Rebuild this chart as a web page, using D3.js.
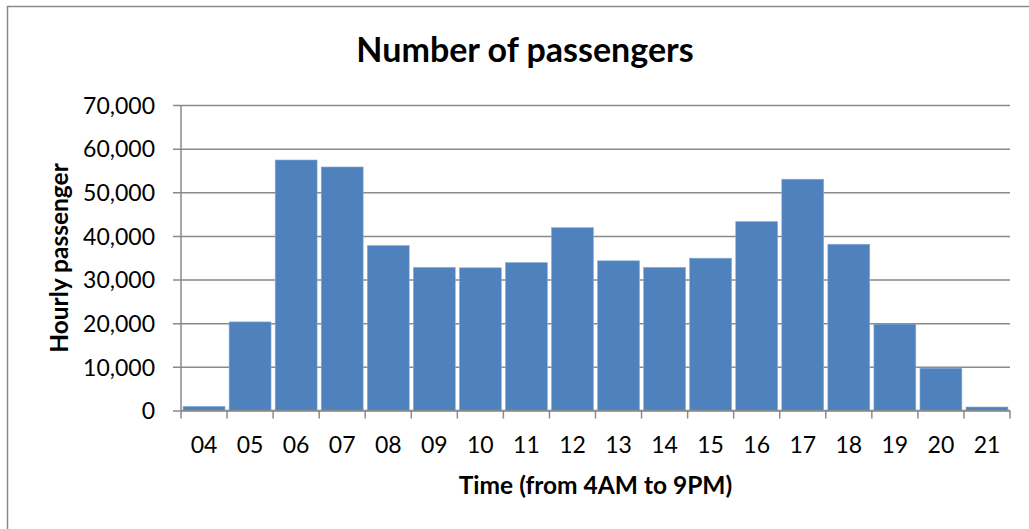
<!DOCTYPE html>
<html>
<head>
<meta charset="utf-8">
<script src="https://cdn.jsdelivr.net/npm/d3@7"></script>
<style>
  html, body { margin: 0; padding: 0; background: #fff; }
  svg { display: block; font-family: Lato, "Open Sans", sans-serif; }
</style>
</head>
<body>
<svg id="chart" width="1029" height="529"></svg>
<script>
// Hourly passenger counts, 4AM to 9PM
const hours = ["04","05","06","07","08","09","10","11","12","13","14","15","16","17","18","19","20","21"];
const passengers = [950, 20300, 57400, 55800, 37800, 32800, 32700, 33900, 41900, 34300, 32800, 34900, 43300, 53000, 38100, 19800, 9700, 800];
const yTicks = [0, 10000, 20000, 30000, 40000, 50000, 60000, 70000];

const svg = d3.select("#chart");
const margin = { left: 181, right: 1010, top: 105, bottom: 410.5 };

// frame around the chart area
svg.append("path")
  .attr("d", "M7.5,529 V6.5 H1029")
  .attr("fill", "none")
  .attr("stroke", "#8a8a8a")
  .attr("stroke-width", 1.5);

const x = d3.scaleBand()
  .domain(hours)
  .range([margin.left, margin.right])
  .paddingInner(0.09)
  .paddingOuter(0.045);

const y = d3.scaleLinear()
  .domain([0, 70000])
  .range([margin.bottom, margin.top]);

// horizontal gridlines with short ticks to the left
const yAxis = d3.axisLeft(y)
  .tickValues(yTicks)
  .tickSize(-(margin.right - margin.left))
  .tickSizeOuter(0)
  .tickPadding(26)
  .tickFormat(d3.format(","));

const gy = svg.append("g")
  .attr("transform", `translate(${margin.left},0)`)
  .call(yAxis);
gy.select(".domain").remove();
gy.selectAll(".tick line")
  .attr("x1", -8)
  .attr("stroke", "#8a8a8a")
  .attr("stroke-width", 1.5);
gy.selectAll(".tick text")
  .attr("fill", "#000")
  .attr("font-size", 23)
  .attr("font-family", "Lato, sans-serif")
  .attr("dy", "0.36em");

// bars
svg.append("g")
  .selectAll("rect")
  .data(hours)
  .join("rect")
  .attr("x", (d) => x(d))
  .attr("width", x.bandwidth())
  .attr("y", (d, i) => y(passengers[i]))
  .attr("height", (d, i) => y(0) - y(passengers[i]))
  .attr("fill", "#4f81bd")
  .attr("stroke", "#8eaed6")
  .attr("stroke-width", 0.6);

// y axis line
svg.append("line")
  .attr("x1", margin.left).attr("x2", margin.left)
  .attr("y1", margin.top).attr("y2", margin.bottom)
  .attr("stroke", "#8a8a8a")
  .attr("stroke-width", 1.5);

// x axis with boundary ticks between categories
const gx = svg.append("g")
  .attr("transform", `translate(0,${margin.bottom})`);
gx.append("line")
  .attr("x1", margin.left).attr("x2", margin.right)
  .attr("stroke", "#8a8a8a")
  .attr("stroke-width", 1.5);
const bounds = d3.range(hours.length + 1).map((i) => margin.left + i * (margin.right - margin.left) / hours.length);
gx.selectAll(".bound")
  .data(bounds)
  .join("line")
  .attr("class", "bound")
  .attr("x1", (d) => d).attr("x2", (d) => d)
  .attr("y1", 0).attr("y2", 8)
  .attr("stroke", "#8a8a8a")
  .attr("stroke-width", 1.5);
gx.selectAll(".lbl")
  .data(hours)
  .join("text")
  .attr("class", "lbl")
  .attr("x", (d) => x(d) + x.bandwidth() / 2)
  .attr("y", 42.5)
  .attr("text-anchor", "middle")
  .attr("font-size", 23)
  .attr("fill", "#000")
  .text((d) => d);

// titles
svg.append("text")
  .attr("x", 525)
  .attr("y", 62)
  .attr("text-anchor", "middle")
  .attr("font-size", 34)
  .attr("font-weight", "bold")
  .attr("fill", "#000")
  .text("Number of passengers");

svg.append("text")
  .attr("x", 595.5)
  .attr("y", 494)
  .attr("text-anchor", "middle")
  .attr("font-size", 24.5)
  .attr("font-weight", "bold")
  .attr("fill", "#000")
  .text("Time (from 4AM to 9PM)");

svg.append("text")
  .attr("transform", "translate(68,258) rotate(-90)")
  .attr("text-anchor", "middle")
  .attr("font-size", 24.5)
  .attr("font-weight", "bold")
  .attr("fill", "#000")
  .text("Hourly passenger");
</script>
</body>
</html>
